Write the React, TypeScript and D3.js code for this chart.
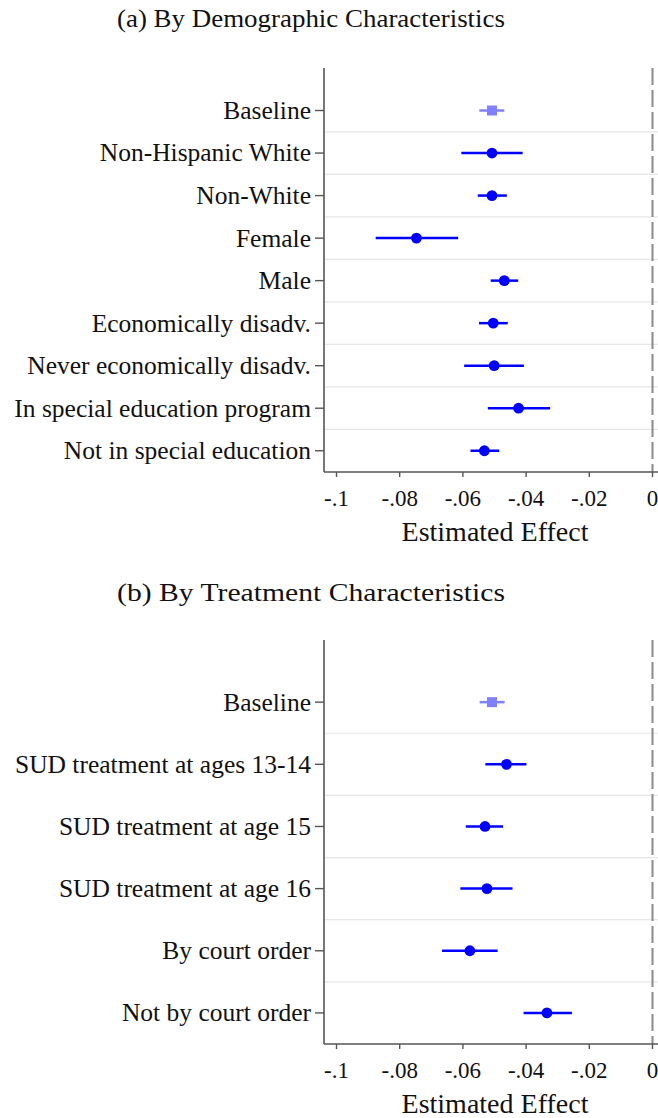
import { useRef, useEffect } from 'react';
import * as d3 from 'd3';

// Panel (a)
const demoLabels = [
  'Baseline',
  'Non-Hispanic White',
  'Non-White',
  'Female',
  'Male',
  'Economically disadv.',
  'Never economically disadv.',
  'In special education program',
  'Not in special education',
];
const demoEst = [-0.0508, -0.0508, -0.0508, -0.0747, -0.0469, -0.0504, -0.0501, -0.0424, -0.0532];
const demoLo = [-0.0548, -0.0605, -0.0553, -0.0876, -0.0512, -0.0549, -0.0596, -0.0521, -0.0576];
const demoHi = [-0.0469, -0.0411, -0.0461, -0.0615, -0.0425, -0.0458, -0.0407, -0.0324, -0.0485];

// Panel (b)
const treatLabels = [
  'Baseline',
  'SUD treatment at ages 13-14',
  'SUD treatment at age 15',
  'SUD treatment at age 16',
  'By court order',
  'Not by court order',
];
const treatEst = [-0.0508, -0.0462, -0.0530, -0.0524, -0.0578, -0.0334];
const treatLo = [-0.0547, -0.0529, -0.0591, -0.0608, -0.0666, -0.0408];
const treatHi = [-0.0468, -0.0399, -0.0473, -0.0443, -0.0490, -0.0255];

const xTicks = [-0.1, -0.08, -0.06, -0.04, -0.02, 0];
// Stata style: "-.08", "0"
const tickFmt = (d: number) =>
  d === 0 ? '0' : d3.format('.2~f')(d).replace('\u2212', '-').replace('0.', '.');

const serif = '"Liberation Serif", "Times New Roman", serif';

function drawPanel(
  svg: d3.Selection<SVGSVGElement, unknown, null, undefined>,
  title: string,
  titleY: number,
  top: number,
  labels: string[],
  est: number[],
  lo: number[],
  hi: number[],
) {
  const left = 324;
  const right = 658;
  const bottom = top + 404;
  const n = labels.length;

  const x = d3.scaleLinear().domain([-0.1, 0]).range([336.5, 652.5]);
  const y = d3.scaleLinear().domain([-1, n - 0.5]).range([top, bottom]);

  const g = svg.append('g');

  g.append('text')
    .attr('x', 311)
    .attr('y', titleY)
    .attr('text-anchor', 'middle')
    .attr('font-family', serif)
    .attr('font-size', 25)
    .attr('fill', '#111')
    .attr('textLength', 388)
    .attr('lengthAdjust', 'spacingAndGlyphs')
    .text(title);

  // Grid lines between rows
  d3.range(n - 1).forEach(i => {
    g.append('line')
      .attr('x1', left)
      .attr('x2', right)
      .attr('y1', y(i + 0.5))
      .attr('y2', y(i + 0.5))
      .attr('stroke', '#e6e6e6')
      .attr('stroke-width', 1.2);
  });

  // Zero reference line
  g.append('line')
    .attr('x1', x(0))
    .attr('x2', x(0))
    .attr('y1', top)
    .attr('y2', bottom)
    .attr('stroke', '#8a8a8a')
    .attr('stroke-width', 2)
    .attr('stroke-dasharray', '17,5');

  // Axes
  g.append('line')
    .attr('x1', left)
    .attr('x2', left)
    .attr('y1', top)
    .attr('y2', bottom)
    .attr('stroke', '#555')
    .attr('stroke-width', 1.6);
  g.append('line')
    .attr('x1', left)
    .attr('x2', right)
    .attr('y1', bottom)
    .attr('y2', bottom)
    .attr('stroke', '#555')
    .attr('stroke-width', 1.6);

  xTicks.forEach(t => {
    g.append('line')
      .attr('x1', x(t))
      .attr('x2', x(t))
      .attr('y1', bottom)
      .attr('y2', bottom + 5)
      .attr('stroke', '#555')
      .attr('stroke-width', 1.4);
    g.append('text')
      .attr('x', x(t))
      .attr('y', bottom + 34)
      .attr('text-anchor', 'middle')
      .attr('font-family', serif)
      .attr('font-size', 23)
      .attr('fill', '#111')
      .text(tickFmt(t));
  });

  g.append('text')
    .attr('x', 495)
    .attr('y', bottom + 69)
    .attr('text-anchor', 'middle')
    .attr('font-family', serif)
    .attr('font-size', 28)
    .attr('fill', '#111')
    .text('Estimated Effect');

  labels.forEach((lab, i) => {
    g.append('line')
      .attr('x1', left - 9)
      .attr('x2', left)
      .attr('y1', y(i))
      .attr('y2', y(i))
      .attr('stroke', '#555')
      .attr('stroke-width', 1.4);
    g.append('text')
      .attr('x', left - 13)
      .attr('y', y(i))
      .attr('dy', '0.33em')
      .attr('text-anchor', 'end')
      .attr('font-family', serif)
      .attr('font-size', 25.5)
      .attr('fill', '#111')
      .text(lab);
  });

  // Estimates with confidence intervals
  labels.forEach((_, i) => {
    const col = i === 0 ? '#8080ff' : '#0000ff';
    g.append('line')
      .attr('x1', x(lo[i]))
      .attr('x2', x(hi[i]))
      .attr('y1', y(i))
      .attr('y2', y(i))
      .attr('stroke', col)
      .attr('stroke-width', 2.5);
    if (i === 0) {
      g.append('rect')
        .attr('x', x(est[i]) - 5)
        .attr('y', y(i) - 5)
        .attr('width', 10)
        .attr('height', 10)
        .attr('fill', col);
    } else {
      g.append('circle')
        .attr('cx', x(est[i]))
        .attr('cy', y(i))
        .attr('r', 5.4)
        .attr('fill', col);
    }
  });
}

export default function App() {
  const svgRef = useRef<SVGSVGElement>(null);

  useEffect(() => {
    if (!svgRef.current) return;
    const svg = d3.select(svgRef.current);
    svg.selectAll('*').remove();

    drawPanel(svg, '(a) By Demographic Characteristics', 27, 68, demoLabels, demoEst, demoLo, demoHi);
    drawPanel(svg, '(b) By Treatment Characteristics', 601, 640, treatLabels, treatEst, treatLo, treatHi);
  }, []);

  return (
    <svg
      ref={svgRef}
      width={658}
      height={1118}
      style={{ position: 'absolute', left: 0, top: 0, background: '#fff' }}
    />
  );
}
